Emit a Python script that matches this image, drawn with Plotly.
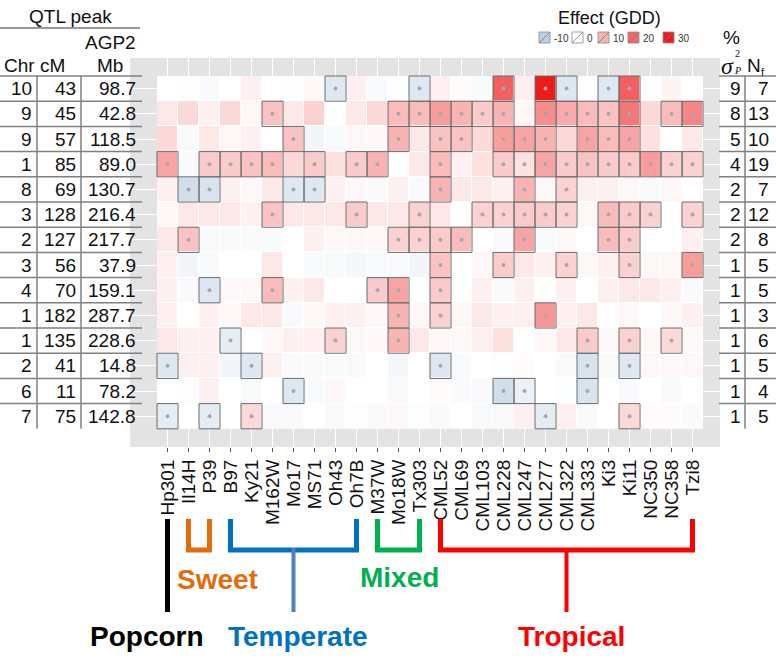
import plotly.graph_objects as go
from plotly.colors import sample_colorscale

# ---------------- data ----------------
line_names = ["Hp301", "Il14H", "P39", "B97", "Ky21", "M162W", "Mo17", "MS71", "Oh43", "Oh7B",
              "M37W", "Mo18W", "Tx303", "CML52", "CML69", "CML103", "CML228", "CML247", "CML277",
              "CML322", "CML333", "Ki3", "Ki11", "NC350", "NC358", "Tzi8"]

chr_ = [10, 9, 9, 1, 8, 3, 2, 3, 4, 1, 1, 2, 6, 7]
cm = [43, 45, 57, 85, 69, 128, 127, 56, 70, 182, 135, 41, 11, 75]
mb = ["98.7", "42.8", "118.5", "89.0", "130.7", "216.4", "217.7", "37.9", "159.1", "287.7",
      "228.6", "14.8", "78.2", "142.8"]
pve = [9, 8, 5, 4, 2, 2, 2, 1, 1, 1, 1, 1, 1, 1]
nf = [7, 13, 10, 19, 7, 12, 8, 5, 5, 3, 6, 5, 4, 5]

effect = [
    [0, -0.5, -1, 0, 2, 0, -0.3, 1, -5, 2, -1, -0.5, -5, 2, 0.5, -1, 21, 2, 30, -5, 0.3, -5, 21, -0.5, 1.5, 0],
    [3, 5, 2, 5, 1, 8, 3, 6, 0, 3, 5, 9, 9, 13, 10, 7, 10, 1, 15, 11, 9, 8, 18, 5, 9, 16],
    [5, -1, 3, 1, 2, 0, 8, -2, -1, 1, 1, 10, 3, 8, 8, 5, 13, 12, 10, 5, 12, 9, 12, 4, 0, 3],
    [12, -1, 7, 7, 8, 9, 5, 7, 4, 7, 10, 0, 3, 9, 2, 4, 7, 4, 12, 7, 8, 7, 7, 13, 6, 6],
    [2, -7, -6, 2, 1, 3, -5, -5, 2, 1, -1, 2, -1, 10, 3, 3, 2, 10, 1, 6, 2, 2, 1, -1, 1, 0],
    [1, 3, 3, 3, 2, 8, 3, 3, 3, 7, 3, 3, 6, 3, 0, 6, 6, 7, 7, 6, 1, 9, 7, 6, 0, 6],
    [3, 8, -1, -1, -1, -1, 0, 2, 1, 1, 1, 6, 6, 7, 9, 0, -1, 12, -1, 1, 0, 9, 7, 0, 0, 2],
    [2, -2, -1, 0, 0, 3, 0, -1, -1, -1.5, -1, -1, -2, 8, 0, 1, 7, 3, 2, 6, 1, 2, 6, 1, 1, 13],
    [2, -1, -5, 1, 1, 9, 2, 3, 0, 0, 7, 12, 0, 7, 0, 2, -1, 2, 0, 2, 0, 2, 3, 3, 2, -1],
    [2, 0, 2, 1, 3, 3, -1, 1, 2, 2, 1, 10, 1, 6, 1, 3, 2, 2, 14, 2, 3, 0, 1, 0, 1, 2],
    [3, 2, 2, -4, 0, 1, 2, 2, 6, 1, 1, 10, 3, 1, 1, 2, 4, 0, 1, 3, 7, 1, 6, 1, 5, 1],
    [-5, 2, 2, -2, -5, 2, -1, -1, -1, -1, 0, -1.5, 0, -5, -1, 0, -0.5, 0.5, 0, -1, -6, -1, -5, 1, 1, 1],
    [0, -0.5, 2, 0, -1, 0, -5, -1, 1, 0, 0, -1, 0, 0.5, -1, -1, -7, -3, 0, -0.5, -6, 0, -1, 0, -1, 0],
    [-4, 0, -4, 0, 5, -1, -1, 0, -1, -0.5, -1, 1, -0.5, -1, 0, -1, -1, 2, -4, 2, -1, 0, 5, 0.5, 0.5, -1],
]

significant = [
    [8, 12, 16, 18, 19, 21, 22],
    [5, 11, 12, 13, 14, 15, 16, 18, 19, 20, 21, 22, 24, 25],
    [6, 11, 13, 14, 16, 17, 18, 20, 21, 22],
    [0, 2, 3, 4, 5, 7, 9, 10, 13, 16, 17, 18, 19, 20, 21, 22, 23, 24, 25],
    [1, 2, 6, 7, 13, 17, 19],
    [5, 9, 12, 15, 16, 17, 18, 19, 21, 22, 23, 25],
    [1, 11, 12, 13, 14, 17, 21, 22],
    [13, 16, 19, 22, 25],
    [2, 5, 10, 11, 13],
    [11, 13, 18],
    [3, 8, 11, 20, 22, 24],
    [0, 4, 13, 20, 22],
    [6, 16, 17, 20],
    [0, 2, 4, 18, 22],
]

legend_values = [-10, 0, 10, 20, 30]

group_names = ["Popcorn", "Sweet", "Temperate", "Mixed", "Tropical"]
group_start = [0, 1, 3, 10, 13]
group_end = [0, 2, 9, 12, 25]

# ---------------- styling / layout ----------------
W, H = 776, 662
FONT = "Liberation Sans, Arial, sans-serif"
SERIF = "Liberation Serif, Times New Roman, serif"

group_colors = ["#000000", "#e36c0a", "#0070c0", "#00b050", "#ff0000"]
stem_colors = ["#000000", None, "#4f81bd", None, "#ff0000"]
label_y_px = [636, 579, 636, 577, 636]
label_xshift = [-21, 18, 4, 1, 5]

colorscale = [[0.0, "#bcd0e4"], [0.25, "#ffffff"], [0.5, "#f9b3b3"],
              [0.75, "#f46767"], [1.0, "#ee1b1b"]]
ZMIN, ZMAX = -10, 30

n_rows = len(chr_)
n_cols = len(line_names)

CELL_W, CELL_H = 21.0, 25.2
PANEL_L, PANEL_R, PANEL_T, PANEL_B = 130, 720, 58, 447
CELLS_L, CELLS_T = 157, 76


def px(x):
    return x / W


def py(y):
    return 1 - y / H


x_range = [-0.5 - (CELLS_L - PANEL_L) / CELL_W,
           -0.5 + (PANEL_R - CELLS_L) / CELL_W]
y_range = [-0.5 + (PANEL_B - CELLS_T) / CELL_H,
           -0.5 - (CELLS_T - PANEL_T) / CELL_H]

fig = go.Figure()

fig.add_trace(go.Heatmap(
    z=effect, x=list(range(n_cols)), y=list(range(n_rows)),
    colorscale=colorscale, zmin=ZMIN, zmax=ZMAX, showscale=False,
    xgap=1, ygap=1, hoverinfo="skip"))

# borders of significant cells
bx, by, dx, dy = [], [], [], []
for j, cols in enumerate(significant):
    for i in cols:
        bx += [i - 0.5, i + 0.5, i + 0.5, i - 0.5, i - 0.5, None]
        by += [j - 0.5, j - 0.5, j + 0.5, j + 0.5, j - 0.5, None]
        dx.append(i)
        dy.append(j)
fig.add_trace(go.Scatter(x=bx, y=by, mode="lines",
                         line=dict(color="#6a6a6a", width=1),
                         hoverinfo="skip", showlegend=False))
fig.add_trace(go.Scatter(x=dx, y=dy, mode="markers",
                         marker=dict(size=4, color="#a8a8a8"),
                         hoverinfo="skip", showlegend=False))

shapes = []
annotations = []

# white backdrop for the cell area
shapes.append(dict(type="rect", xref="x", yref="y", x0=-0.5, x1=n_cols - 0.5,
                   y0=-0.5, y1=n_rows - 0.5, fillcolor="white",
                   line=dict(width=0), layer="between"))

# ---- tables ----
TBL_LINE = dict(color="#808080", width=1.5)
for j in range(n_rows):
    shapes.append(dict(type="line", xref="paper", yref="y", x0=px(0), x1=px(142),
                       y0=j - 0.5, y1=j - 0.5, line=TBL_LINE))
    shapes.append(dict(type="line", xref="paper", yref="y", x0=px(719), x1=px(776),
                       y0=j - 0.5, y1=j - 0.5, line=TBL_LINE))
for xv in [37, 81, 745]:
    shapes.append(dict(type="line", xref="paper", yref="y", x0=px(xv), x1=px(xv),
                       y0=-0.5, y1=n_rows - 0.5, line=TBL_LINE))
shapes.append(dict(type="line", xref="paper", yref="paper", x0=px(0), x1=px(140),
                   y0=py(28), y1=py(28), line=dict(color="#333333", width=1)))

tfont = dict(family=FONT, size=19, color="#111111")


def ann_px(text, x, y, xanchor="center", font=tfont):
    annotations.append(dict(text=text, x=px(x), y=py(y), xref="paper", yref="paper",
                            xanchor=xanchor, yanchor="middle", showarrow=False, font=font))


ann_px("QTL peak", 70, 16)
ann_px("AGP2", 138, 43, "right")
ann_px("Chr", 19, 66)
ann_px("cM", 52, 66)
ann_px("Mb", 110, 66)

for j in range(n_rows):
    for val, xr in [(chr_[j], 34), (cm[j], 78), (mb[j], 138), (pve[j], 743), (nf[j], 771)]:
        annotations.append(dict(text=str(val), x=px(xr), y=j, xref="paper", yref="y",
                                xanchor="right", yanchor="middle", showarrow=False,
                                font=tfont))

# right header
ann_px("%", 731, 38)
ann_px("<i>σ</i>", 727, 66, font=dict(family=SERIF, size=24, color="#111111"))
ann_px("2", 737, 54, font=dict(family=SERIF, size=10, color="#111111"))
ann_px("<i>P</i>", 737, 71, font=dict(family=SERIF, size=10, color="#111111"))
ann_px("N", 754, 66)
ann_px("f", 763, 72, font=dict(family=FONT, size=11, color="#111111"))

# ---- colour legend ----
ann_px("Effect (GDD)", 609, 18, font=dict(family=FONT, size=18, color="#111111"))
sw_left = [539, 572, 598, 628, 663]
SW = 11
SW_T = 32
for k, v in enumerate(legend_values):
    col = sample_colorscale(colorscale, [(v - ZMIN) / (ZMAX - ZMIN)])[0]
    x0 = sw_left[k]
    shapes.append(dict(type="rect", xref="paper", yref="paper",
                       x0=px(x0), x1=px(x0 + SW), y0=py(SW_T + SW), y1=py(SW_T),
                       fillcolor=col, line=dict(color="#8a8a8a", width=0.8)))
    shapes.append(dict(type="line", xref="paper", yref="paper",
                       x0=px(x0), x1=px(x0 + SW), y0=py(SW_T + SW), y1=py(SW_T),
                       line=dict(color="#7a7a7a", width=0.8)))
    ann_px(str(v), x0 + SW + 2, SW_T + SW / 2 + 1, "left",
           font=dict(family=FONT, size=10, color="#333333"))

# ---- group brackets ----
B_TOP, B_BOT, STEM_BOT = 519, 550, 612
for g in range(len(group_names)):
    a, b = group_start[g], group_end[g]
    path = (f"M {a},{py(B_TOP)} L {a},{py(B_BOT)} L {b},{py(B_BOT)} L {b},{py(B_TOP)}")
    shapes.append(dict(type="path", xref="x", yref="paper", path=path,
                       line=dict(color=group_colors[g], width=5)))
    center = (a + b) / 2
    if stem_colors[g] is not None:
        shapes.append(dict(type="line", xref="x", yref="paper", x0=center, x1=center,
                           y0=py(B_BOT - 2), y1=py(STEM_BOT),
                           line=dict(color=stem_colors[g], width=5 if g == 0 else 4)))
    annotations.append(dict(text=f"<b>{group_names[g]}</b>", x=center, y=py(label_y_px[g]),
                            xref="x", yref="paper", xanchor="center", yanchor="middle",
                            xshift=label_xshift[g], showarrow=False,
                            font=dict(family=FONT, size=28, color=group_colors[g])))

fig.update_layout(
    width=W, height=H, margin=dict(l=0, r=0, t=0, b=0),
    paper_bgcolor="white", plot_bgcolor="#e3e3e3",
    showlegend=False,
    xaxis=dict(domain=[px(PANEL_L), px(PANEL_R)], range=x_range,
               tickvals=list(range(n_cols)), ticktext=line_names, tickangle=-90,
               ticks="outside", ticklen=4, tickcolor="#555555", tickwidth=1,
               showgrid=True, gridcolor="white", gridwidth=1, zeroline=False,
               showline=False, tickfont=dict(family=FONT, size=19, color="#111111"),
               fixedrange=True),
    yaxis=dict(domain=[py(PANEL_B), py(PANEL_T)], range=y_range,
               tickvals=list(range(n_rows)), showticklabels=False, ticks="",
               showgrid=True, gridcolor="white", gridwidth=1, zeroline=False,
               showline=False, fixedrange=True),
    shapes=shapes, annotations=annotations,
)

fig.write_html("out.html", config={"displayModeBar": False},
               post_script="document.body.style.margin='0';document.body.style.overflow='hidden';")
